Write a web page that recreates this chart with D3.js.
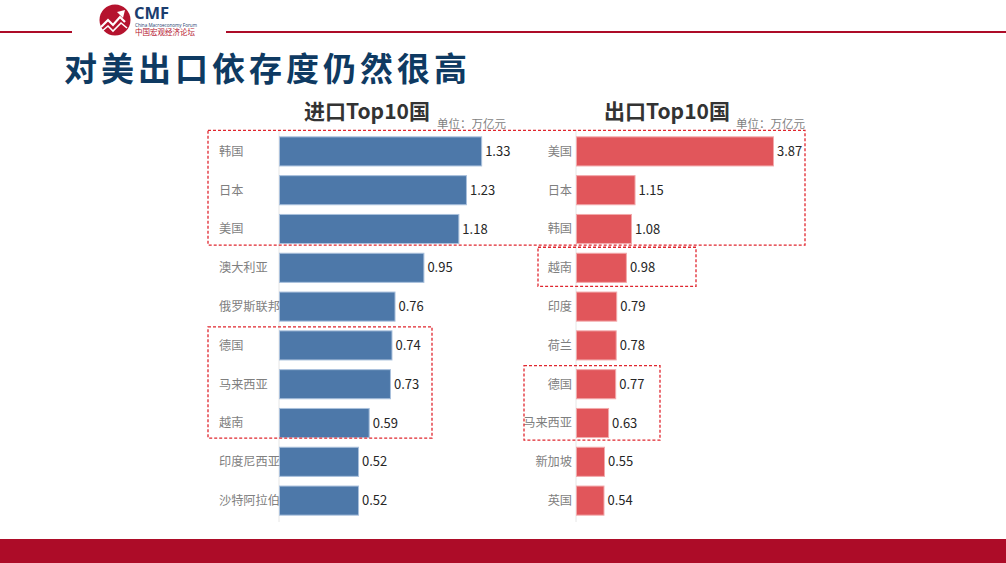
<!DOCTYPE html>
<html><head><meta charset="utf-8">
<script src="https://cdn.jsdelivr.net/npm/d3@7"></script>
<style>
html,body{margin:0;padding:0;background:#fff;}
svg{display:block;font-family:"Noto Sans CJK SC","Microsoft YaHei",sans-serif;}
</style></head>
<body>
<svg id="c" width="1006" height="563"></svg>
<script>
const pageTitle = "对美出口依存度仍然很高";
const importTitle = "进口Top10国";
const exportTitle = "出口Top10国";
const unitLabel = "单位：万亿元";
const importCountries = ["韩国","日本","美国","澳大利亚","俄罗斯联邦","德国","马来西亚","越南","印度尼西亚","沙特阿拉伯"];
const importValues = [1.33,1.23,1.18,0.95,0.76,0.74,0.73,0.59,0.52,0.52];
const exportCountries = ["美国","日本","韩国","越南","印度","荷兰","德国","马来西亚","新加坡","英国"];
const exportValues = [3.87,1.15,1.08,0.98,0.79,0.78,0.77,0.63,0.55,0.54];

const svg = d3.select("#c");
const RED = "#ad0c28";

// header lines
svg.append("rect").attr("x",0).attr("y",31).attr("width",72).attr("height",2).attr("fill",RED);
svg.append("rect").attr("x",226).attr("y",31).attr("width",780).attr("height",2).attr("fill",RED);
// logo
const logo = svg.append("g");
logo.append("circle").attr("cx",115).attr("cy",20).attr("r",15.5).attr("fill","#b5132e");
logo.append("path").attr("d","M101,27 L108,20 L113,25 L120,17 L125,22").attr("fill","none").attr("stroke","#fff").attr("stroke-width",2.2);
logo.append("path").attr("d","M101,32 L108,26 L113,31 L121,23 L127,28").attr("fill","none").attr("stroke","#fff").attr("stroke-width",1.6);
logo.append("path").attr("d","M117,12 L125,10 L123,18 Z").attr("fill","#fff");
logo.append("text").attr("x",134).attr("y",19).attr("font-size",16.5).attr("font-weight",700)
  .attr("fill","#1b3d6e").attr("font-family","Open Sans, sans-serif").text("CMF");
logo.append("text").attr("x",135).attr("y",27).attr("font-size",4.6).attr("fill","#1b3d6e")
  .attr("font-family","Open Sans, sans-serif").text("China Macroeconomy Forum");
logo.append("text").attr("x",135).attr("y",35).attr("font-size",7.5).attr("fill","#b5132e").text("中国宏观经济论坛");

// page title
svg.append("text").attr("x",64).attr("y",81).attr("font-size",33).attr("font-weight",700)
  .attr("letter-spacing",4).attr("fill","#0e3a62").text(pageTitle);

// footer
svg.append("rect").attr("x",0).attr("y",539).attr("width",1006).attr("height",24).attr("fill",RED);

const y = d3.scaleBand().domain(d3.range(10)).range([132,520]).paddingInner(0.25).paddingOuter(0.125);

function panel(opts){
  const {countries, values, x0, pxPerUnit, maxV, color, stroke, labelX, labelAnchor, titleX, unitX} = opts;
  const x = d3.scaleLinear().domain([0,maxV]).range([x0, x0 + maxV*pxPerUnit]);
  const g = svg.append("g");
  g.append("line").attr("x1",x0).attr("x2",x0).attr("y1",130).attr("y2",522).attr("stroke","#e6e6e6").attr("stroke-width",1);
  g.selectAll("rect.bar").data(values).join("rect").attr("class","bar")
    .attr("x",x(0)+0.5).attr("y",(d,i)=>y(i)).attr("height",y.bandwidth())
    .attr("width",d=>x(d)-x(0)).attr("fill",color).attr("stroke",stroke).attr("stroke-width",1);
  g.selectAll("text.val").data(values).join("text").attr("class","val")
    .attr("x",d=>x(d)+4).attr("y",(d,i)=>y(i)+y.bandwidth()/2).attr("dy","0.36em")
    .attr("font-size",13).attr("fill","#262626").text(d=>d.toFixed(2));
  g.selectAll("text.cat").data(countries).join("text").attr("class","cat")
    .attr("x",labelX).attr("text-anchor",labelAnchor).attr("y",(d,i)=>y(i)+y.bandwidth()/2).attr("dy","0.36em")
    .attr("font-size",12.2).attr("fill","#7f7f7f").text(d=>d);
  g.append("text").attr("x",titleX).attr("y",119).attr("text-anchor","middle").attr("font-size",21)
    .attr("font-weight",700).attr("fill","#333").text(opts.title);
  g.append("text").attr("x",unitX).attr("y",127.5).attr("font-size",11.5).attr("fill","#7f7f7f").text(unitLabel);
}

panel({countries:importCountries, values:importValues, x0:279, pxPerUnit:152, maxV:1.4,
  color:"#4d78a9", stroke:"#a9c0dc", labelX:219, labelAnchor:"start", titleX:367, unitX:437, title:importTitle});
panel({countries:exportCountries, values:exportValues, x0:576, pxPerUnit:50.9, maxV:4,
  color:"#e1565b", stroke:"#f2a9ab", labelX:572, labelAnchor:"end", titleX:667, unitX:736, title:exportTitle});

// dashed highlight boxes
function box(x1,x2,i1,i2,pt,pb){
  const t = y(i1) - pt, b = y(i2) + y.bandwidth() + pb;
  svg.append("rect").attr("x",x1).attr("y",t).attr("width",x2-x1).attr("height",b-t)
    .attr("fill","none").attr("stroke","#e0262e").attr("stroke-width",1.3).attr("stroke-dasharray","3,2");
}
box(208,805,0,2,6.5,1.5);
box(208,432,5,7,4,0.5);
box(538,696,3,3,6,4);
box(524,660,6,7,4,2.5);
</script>
</body></html>
